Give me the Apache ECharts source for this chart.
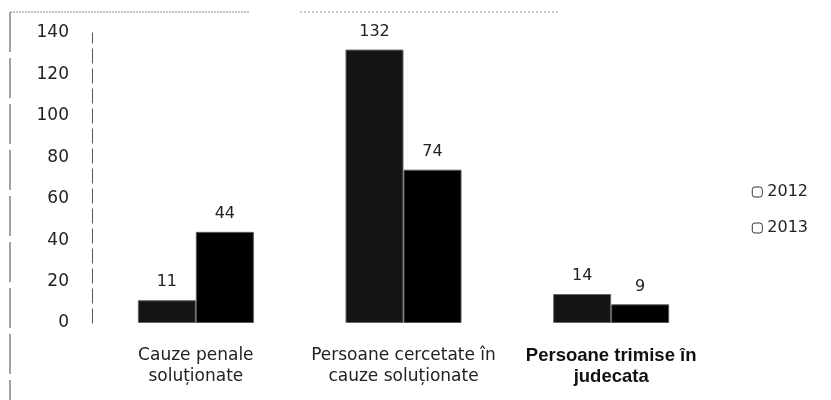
<!DOCTYPE html>
<html>
<head>
<meta charset="utf-8">
<script src="https://cdn.jsdelivr.net/npm/echarts@6/dist/echarts.min.js"></script>
<style>
  html, body { margin: 0; padding: 0; background: #fff; }
  #main { width: 831px; height: 400px; }
</style>
</head>
<body>
<div id="main"></div>
<script>
var categories = ['Cauze penale\nsoluționate', 'Persoane cercetate în\ncauze soluționate', 'Persoane trimise în\njudecata'];
var values2012 = [11, 132, 14];
var values2013 = [44, 74, 9];
var yTicks = [0, 20, 40, 60, 80, 100, 120, 140];

var myChart = echarts.init(document.getElementById('main'));
var textColor = '#222';
var font = 'DejaVu Sans';

var option = {
  backgroundColor: '#fff',
  animation: false,
  textStyle: { fontFamily: font, color: textColor },
  grid: { left: 92, right: 116, top: 33, bottom: 77, containLabel: false },
  legend: {
    orient: 'vertical',
    right: 18,
    top: 179,
    itemWidth: 10,
    itemHeight: 10,
    itemGap: 20,
    itemStyle: { color: '#fff', borderColor: '#333', borderWidth: 1 },
    textStyle: { fontSize: 16, color: textColor, fontFamily: font },
    data: ['2012', '2013']
  },
  xAxis: {
    type: 'category',
    data: categories,
    axisLine: { show: false },
    axisTick: { show: false },
    axisLabel: {
      interval: 0,
      margin: 22,
      fontSize: 17,
      lineHeight: 21,
      color: textColor,
      fontFamily: font,
      formatter: function(v, i) {
        return i === 2 ? '{b|' + v.replace('\n', '}\n{b|') + '}' : v;
      },
      rich: { b: { fontSize: 18.5, fontWeight: 'bold', fontFamily: 'Liberation Sans', color: '#111', lineHeight: 21 } }
    }
  },
  yAxis: {
    type: 'value',
    min: 0,
    max: 140,
    interval: 20,
    axisLine: { show: true, lineStyle: { color: '#555', width: 1, type: [14, 6] } },
    axisTick: { show: false },
    splitLine: { show: false },
    axisLabel: { margin: 23, fontSize: 17, color: textColor, fontFamily: font }
  },
  series: [
    {
      name: '2012',
      type: 'bar',
      data: values2012,
      barWidth: 58,
      barGap: '0%',
      itemStyle: { color: '#151515', borderColor: '#666', borderWidth: 1 },
      label: { show: true, position: 'top', distance: 10, fontSize: 16, color: textColor, fontFamily: font }
    },
    {
      name: '2013',
      type: 'bar',
      data: values2013,
      barWidth: 58,
      barGap: '0%',
      itemStyle: { color: '#000', borderColor: '#555', borderWidth: 1 },
      label: { show: true, position: 'top', distance: 10, fontSize: 16, color: textColor, fontFamily: font }
    }
  ],
  graphic: [
    { type: 'line', shape: { x1: 10, y1: 12, x2: 10, y2: 400 }, style: { stroke: '#444', lineWidth: 1, lineDash: [40, 6] } },
    { type: 'line', shape: { x1: 10, y1: 12, x2: 250, y2: 12 }, style: { stroke: '#888', lineWidth: 1, lineDash: [2, 1] } },
    { type: 'line', shape: { x1: 300, y1: 12, x2: 560, y2: 12 }, style: { stroke: '#999', lineWidth: 1, lineDash: [2, 2] } }
  ]
};
myChart.setOption(option);
</script>
</body>
</html>
